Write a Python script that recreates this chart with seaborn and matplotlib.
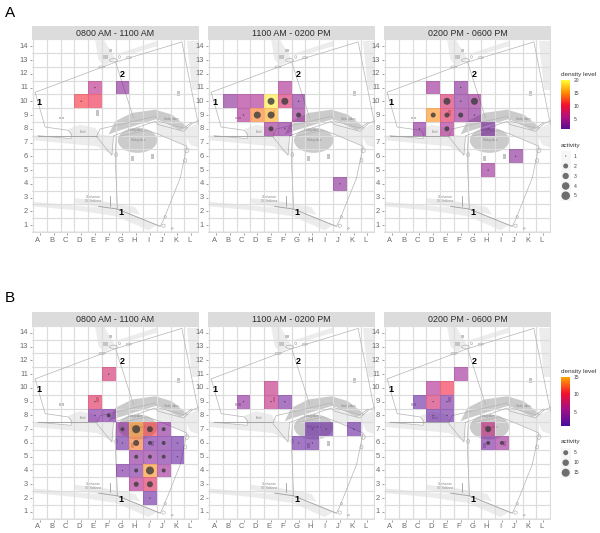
import numpy as np, pandas as pd
import matplotlib
matplotlib.use("Agg")
import matplotlib.pyplot as plt
import seaborn as sns
from matplotlib.colors import LinearSegmentedColormap, Normalize
from matplotlib.cm import ScalarMappable
from matplotlib.patches import Polygon, Rectangle, Ellipse
from matplotlib.transforms import ScaledTranslation

sns.set_theme(style="white")
plt.rcParams['font.family'] = ['Liberation Sans', 'DejaVu Sans']

columns = list("ABCDEFGHIJKL")
rows_all = list(range(1, 15))
periods = ["0800 AM - 1100 AM", "1100 AM - 0200 PM", "0200 PM - 0600 PM"]

# (column, row, density, activity) ; activity 0 = no activity dot
A1_col = list("EDEG");                A1_row = [11, 10, 10, 11]
A1_den = [6, 11, 10, 3];              A1_act = [1, 1, 0, 0]
A2_col = list("BCDEFGFCDEGEFJ");      A2_row = [10, 10, 10, 10, 10, 10, 11, 9, 9, 9, 9, 8, 8, 4]
A2_den = [3, 5, 5, 19, 8, 3, 5, 5, 14, 16, 4, 4, 3, 3]
A2_act = [0, 0, 0, 4, 4, 1, 0, 1, 4, 4, 3, 3, 1, 1]
A3_col = list("DFEFGDEFGCEHJH");      A3_row = [11, 11, 10, 10, 10, 9, 9, 9, 9, 8, 8, 8, 6, 5]
A3_den = [4, 3, 8, 3, 4, 15, 9, 4, 3, 3, 5, 2, 3, 4]
A3_act = [0, 1, 4, 1, 4, 3, 3, 3, 1, 1, 3, 1, 1, 1]
B1_col = list("FEEFGHIJGHIJKHIJKGHIJHII")
B1_row = [11, 9, 8, 8, 7, 7, 7, 7, 6, 6, 6, 6, 6, 5, 5, 5, 5, 4, 4, 4, 4, 3, 3, 2]
B1_den = [8, 9, 3, 3, 4, 14, 11, 4, 2, 13, 3, 3, 2, 4, 4, 3, 2, 3, 3, 14, 5, 6, 9, 2]
B1_act = [1, 1, 1, 5, 5, 15, 10, 5, 1, 10, 5, 5, 1, 5, 5, 5, 1, 1, 5, 15, 5, 7, 9, 1]
B2_col = list("ECEFHIKGH");           B2_row = [10, 9, 9, 9, 7, 7, 7, 6, 6]
B2_den = [7, 4, 7, 3, 2, 2, 2, 2, 2]; B2_act = [0, 1, 1, 1, 1, 1, 1, 1, 1]
B3_col = list("FDECDEDEHHI");         B3_row = [11, 10, 10, 9, 9, 9, 8, 8, 7, 6, 6]
B3_den = [5, 6, 10, 2, 8, 3, 2, 2, 7, 3, 5]
B3_act = [0, 0, 0, 0, 1, 1, 1, 1, 9, 5, 5]

A_legend = [1, 2, 3, 4, 5]
B_legend = [5, 10, 15]
A_ticks = [5, 10, 15, 20]
B_ticks = [5, 10, 15]

cmap_A = LinearSegmentedColormap.from_list("a", ["#560c92", "#b0107f", "#f5102e", "#ff8c00", "#ffff33"])
cmap_B = LinearSegmentedColormap.from_list("b", ["#470e9e", "#a01088", "#f5102e", "#ffa500"])

W, H = 600, 533
fig = plt.figure(figsize=(6, 5.33), dpi=100, facecolor="white")
def px_axes(l, t, r, b, **kw):
    return fig.add_axes([l / W, 1 - b / H, (r - l) / W, (b - t) / H], **kw)

# base map (reference map sheet coordinates, converted to the cell axes)
def m(pts):
    a = np.array(pts, float)
    return np.column_stack([(a[:, 0] - 99) / 41.2, 9.5 + (305 - a[:, 1]) / 41.2])

light = "#ececec"; dark = "#cbcbcb"; line = "#b4b4b4"; road = "#a2a2a2"
light_polys = [
    [(205,388),(240,375),(285,385),(300,405),(338,410),(340,467),(290,440),(100,422),(100,408),(215,418)],
    [(100,606),(230,618),(350,628),(470,676),(445,692),(350,650),(230,632),(100,620)],
    [(222,595),(300,603),(405,622),(420,645),(350,632),(225,610)],
    [(285,122),(312,122),(347,180),(312,198),(295,180)],
    [(345,165),(470,124),(470,140),(385,165)],
    [(560,125),(597,125),(597,272),(575,272)],
    [(550,392),(597,368),(597,445),(570,435)],
    [(468,365),(560,395),(560,440),(470,402)],
]
dark_polys = [
    [(325,405),(345,365),(395,340),(465,330),(515,345),(565,385),(540,392),(470,358),(350,395)],
]
dark_ell = [(412,422,118,75)]
line_paths = [
    [(105,278),(345,188),(545,127),(592,362),(597,378)],
    [(105,278),(135,382),(205,392),(215,405),(213,417),(113,408)],
    [(347,190),(400,355)],
    [(290,412),(335,467),(340,408),(465,365),(475,375),(550,395),(575,372),(597,362)],
    [(348,412),(345,470),(352,628)],
    [(358,410),(440,392),(470,402),(560,440),(540,535),(490,660),(480,680)],
    [(290,408),(300,388),(465,350),(475,365),(550,385),(575,368)],
]
road_paths = [
    [(113,408),(215,408),(290,408)],
    [(295,620),(352,628),(480,680)],
    [(329,590),(329,618)],
]
blocks = [(535,282,10,16),(397,477,9,16),(457,471,9,16),(293,340,8,16),(185,355,16,8),(315,173,16,12),(332,152,10,9)]
small = [(305,202,18,6),(340,182,24,10),(386,174,16,6),(358,172,6,8),(560,452,12,14),(555,482,9,12),(348,465,8,12),
         (490,678,10,10),(495,651,7,7),(516,686,6,4)]
map_text = [(248,396,"Teich"),(515,358,"Stockgraben"),(414,421,"Stockgraben"),(405,390,"Stockgraben"),
            (278,592,"Oberhausen"),(278,604,"Old Schleuse")]
num_text = [(117,310,"1"),(365,226,"2"),(362,638,"1")]

def draw_map(ax):
    for p in light_polys:
        ax.add_patch(Polygon(m(p), closed=True, fc=light, ec="none", zorder=0.5))
    for p in dark_polys:
        ax.add_patch(Polygon(m(p), closed=True, fc=dark, ec="none", zorder=0.6))
    for cx, cy, w, h in dark_ell:
        c = m([(cx, cy)])[0]
        ax.add_patch(Ellipse(c, w / 41.2, h / 41.2, fc=dark, ec="none", zorder=0.6))
    for p in line_paths:
        a = m(p); ax.plot(a[:, 0], a[:, 1], color=line, lw=0.5, zorder=1.2)
    for p in road_paths:
        a = m(p); ax.plot(a[:, 0], a[:, 1], color=road, lw=0.65, zorder=1.2)
    for cx, cy, w, h in blocks:
        c = m([(cx, cy)])[0]
        ax.add_patch(Rectangle((c[0] - w / 82.4, c[1] - h / 82.4), w / 41.2, h / 41.2, fc="#c4c4c4", ec="none", zorder=0.8))
    for cx, cy, w, h in small:
        c = m([(cx, cy)])[0]
        ax.add_patch(Ellipse(c, w / 41.2, h / 41.2, fc="none", ec="#a8a8a8", lw=0.4, zorder=1.2))
    for zx, zy, s in map_text:
        c = m([(zx, zy)])[0]
        ax.text(c[0], c[1], s, fontsize=2, color="#858585", ha="center", va="center", zorder=0.9)
    for zx, zy, s in num_text:
        c = m([(zx, zy)])[0]
        ax.text(c[0], c[1], s, fontsize=6.5, fontweight="bold", color="black", ha="center", va="center", zorder=5)

def panel(l, r, t, b, title, cols, rws, den, act, cmap, vmax, sizes):
    ax = px_axes(l, t, r, b)
    st = px_axes(l, t - 14.5, r, t)
    st.set_facecolor("#dcdcdc"); st.set_xticks([]); st.set_yticks([])
    for s in st.spines.values(): s.set_visible(False)
    st.text(0.5, 0.46, title, transform=st.transAxes, ha="center", va="center", fontsize=6.4, color="#2a2a2a")

    df = pd.DataFrame({"col": cols, "row": rws, "den": den, "act": act})
    grid = df.pivot_table(index="row", columns="col", values="den").reindex(index=rows_all, columns=columns)
    sns.heatmap(grid, ax=ax, cmap=cmap, vmin=1, vmax=vmax, alpha=0.56, cbar=False, linewidths=0)
    ax.collections[0].set_zorder(2)
    ax.collections[0].set_edgecolor("face")
    ax.collections[0].set_linewidth(0)

    draw_map(ax)
    ax.add_patch(Rectangle((-0.08, -0.06), 12.15, 0.13, fc="#eeeeee", ec="none", zorder=0.4))

    for x in range(13):
        ax.plot([x, x], [-0.06, 13.96], color="#dcdcdc", lw=0.85, zorder=1)
    for y in range(15):
        ax.plot([-0.08, 12.07], [y, y], color="#dcdcdc", lw=0.85, zorder=1)

    pts = df[df.act > 0].copy()
    pts["x"] = pts["col"].map({c: i + 0.5 for i, c in enumerate(columns)})
    pts["y"] = pts["row"] - 0.5
    sns.scatterplot(data=pts, x="x", y="y", size="act", sizes=sizes, color="#3a3a3a", alpha=0.8,
                    linewidth=0, legend=False, ax=ax, zorder=3)

    ax.set_xlim(-0.08, 12.07); ax.set_ylim(-0.06, 13.96)
    ax.set_xlabel(""); ax.set_ylabel("")
    ax.set_xticks(np.arange(12) + 0.5); ax.set_yticks(np.arange(14) + 0.5)
    ax.set_xticklabels(columns, rotation=0); ax.set_yticklabels(rows_all, rotation=0)
    ax.tick_params(axis="both", length=1.6, width=0.5, color="#777777", labelcolor="#6a6a6a",
                   labelsize=5.4, pad=1.2, bottom=True, left=True)
    off = ScaledTranslation(-2 / 100, 0, fig.dpi_scale_trans)
    for lab in ax.get_xticklabels():
        lab.set_transform(lab.get_transform() + off)
    for s in ax.spines.values(): s.set_visible(False)
    return ax

sz = lambda d: (d * 0.72) ** 2
sizes_A = {1: sz(1.4), 2: sz(3.6), 3: sz(5.0), 4: sz(7.0), 5: sz(8.5)}
sizes_B = {1: sz(1.4), 5: sz(4.0), 7: sz(5.0), 9: sz(6.0), 10: sz(6.0), 15: sz(8.0)}

xs = [(32, 199), (208, 375.3), (384, 551)]
A = [(A1_col, A1_row, A1_den, A1_act), (A2_col, A2_row, A2_den, A2_act), (A3_col, A3_row, A3_den, A3_act)]
B = [(B1_col, B1_row, B1_den, B1_act), (B2_col, B2_row, B2_den, B2_act), (B3_col, B3_row, B3_den, B3_act)]
for (l, r), title, d in zip(xs, periods, A):
    panel(l, r, 40, 232.7, title, *d, cmap_A, 20, sizes_A)
for (l, r), title, d in zip(xs, periods, B):
    panel(l, r, 326.5, 519.5, title, *d, cmap_B, 15, sizes_B)

# overlay in pixel coordinates for legends and panel letters
ov = fig.add_axes([0, 0, 1, 1], facecolor="none")
ov.set_xlim(0, W); ov.set_ylim(H, 0); ov.axis("off")
ov.text(5, 13, "A", fontsize=11, color="black", va="center")
ov.text(5, 298, "B", fontsize=11, color="black", va="center")

def legend(top_bar, bot_bar, title_y, ticks, cmap, vmax, act_title_y, act_ys, act_vals, act_d):
    ov.text(561, title_y, "density level", fontsize=4.6, color="#333333", va="center")
    cax = px_axes(561, top_bar, 570.3, bot_bar)
    fig.colorbar(ScalarMappable(Normalize(1, vmax), cmap), cax=cax, ticks=ticks)
    cax.tick_params(length=0, labelsize=3.6, pad=2.6, labelcolor="#444444")
    cax.spines["outline"].set_visible(False)
    ov.text(561, act_title_y, "activity", fontsize=4.6, color="#333333", va="center")
    for y, v, d in zip(act_ys, act_vals, act_d):
        ov.add_patch(Rectangle((560.7, y - 5), 10, 10, fc="#f6f6f6", ec="none"))
        ov.text(573.5, y, str(v), fontsize=3.6, color="#444444", va="center")
    keys = pd.DataFrame({"x": [565.7] * len(act_ys), "y": act_ys, "d": act_d})
    sns.scatterplot(data=keys, x="x", y="y", size="d", sizes={d: sz(d) for d in act_d}, color="#3a3a3a",
                    alpha=0.72, linewidth=0, legend=False, ax=ov, zorder=4)
    ov.set_xlim(0, W); ov.set_ylim(H, 0); ov.axis("off")

legend(80.3, 129.3, 74.5, A_ticks, cmap_A, 20, 145.5, [156, 166, 176, 186, 195.7], A_legend, [1.3, 5, 6.3, 7.5, 8.5])
legend(377, 426, 371, B_ticks, cmap_B, 15, 442, [452.7, 462.7, 472.7], B_legend, [5, 6.5, 8])

fig.savefig("out.png", dpi=100)
